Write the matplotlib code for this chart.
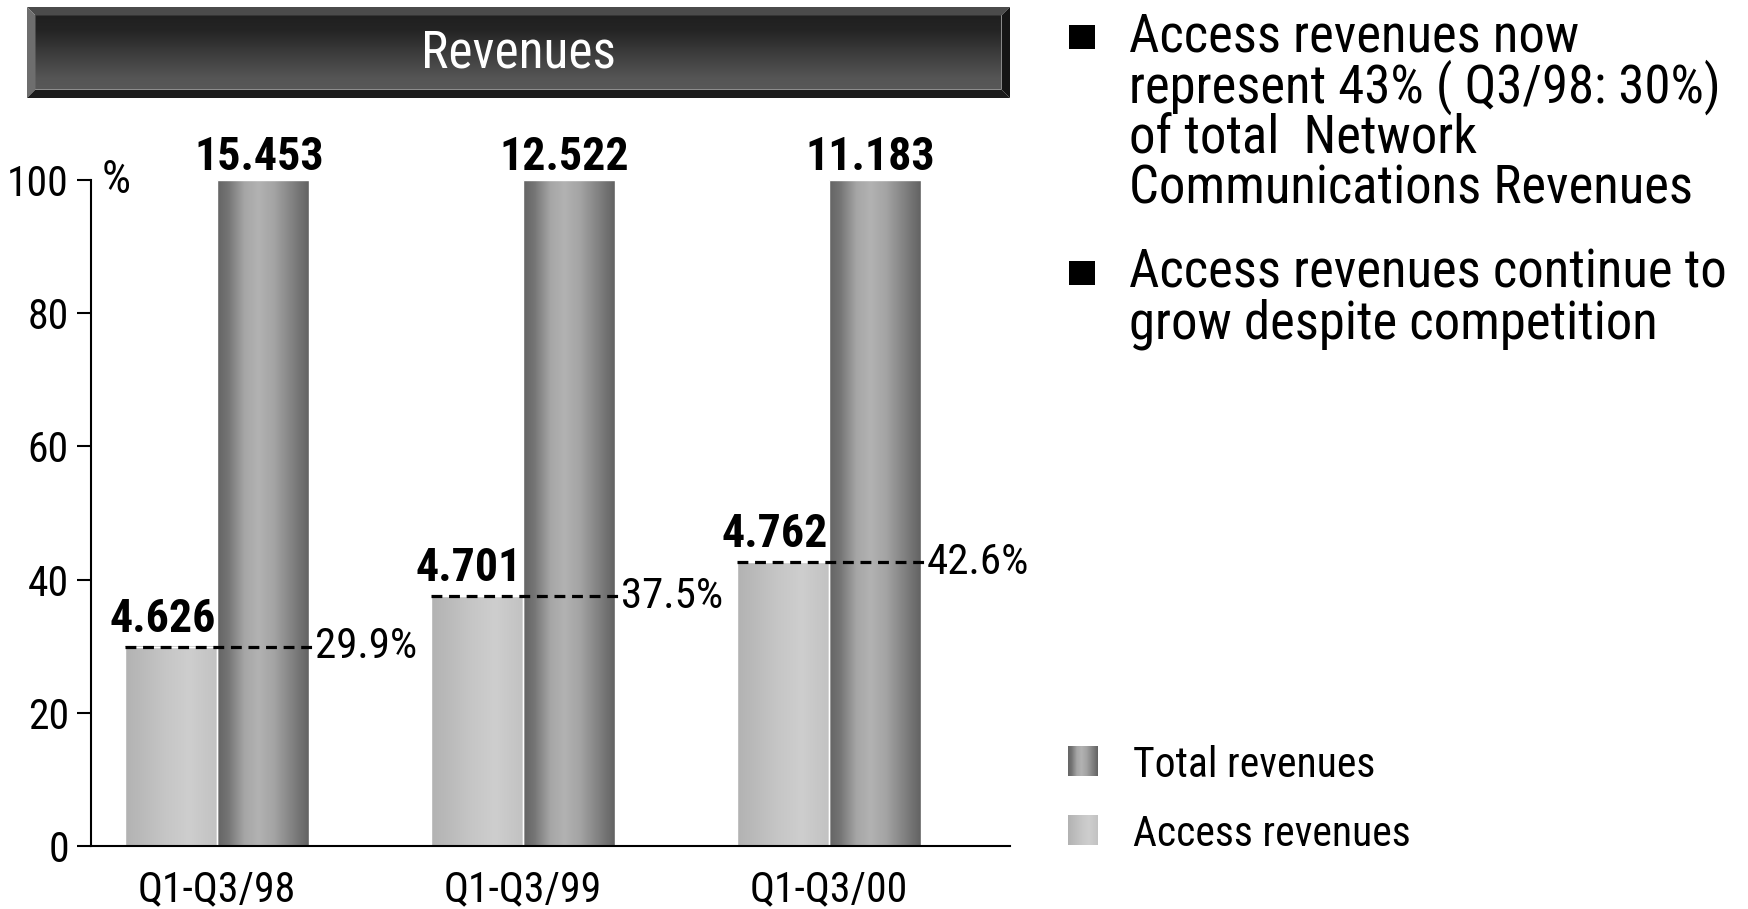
import numpy as np
import matplotlib.pyplot as plt
from matplotlib.colors import LinearSegmentedColormap
from matplotlib.patches import Polygon, Rectangle

plt.rcParams['font.family'] = ['Roboto Condensed', 'DejaVu Sans']

periods = ['Q1-Q3/98', 'Q1-Q3/99', 'Q1-Q3/00']
total_rev = [15.453, 12.522, 11.183]
access_rev = [4.626, 4.701, 4.762]
access_pct = [29.9, 37.5, 42.6]
total_pct = [100, 100, 100]

bullet_points = [
    ['Access revenues now', 'represent 43% ( Q3/98: 30%)', 'of total  Network',
     'Communications Revenues'],
    ['Access revenues continue to', 'grow despite competition'],
]
legend_labels = ['Total revenues', 'Access revenues']

# cylinder-like shading across the bars
total_cmap = LinearSegmentedColormap.from_list('total', [
    (0, '#646464'), (0.12, '#747474'), (0.3, '#a6a6a6'), (0.45, '#b2b2b2'),
    (0.62, '#a4a4a4'), (0.8, '#858585'), (1, '#626262')])
access_cmap = LinearSegmentedColormap.from_list('access', [
    (0, '#b2b2b2'), (0.45, '#c6c6c6'), (0.7, '#cecece'), (1, '#c2c2c2')])
banner_cmap = LinearSegmentedColormap.from_list('banner', [
    (0, '#202020'), (0.2, '#242424'), (0.85, '#555555'), (1, '#585858')])
hramp = np.linspace(0, 1, 256).reshape(1, -1)
vramp = np.linspace(0, 1, 256).reshape(-1, 1)

W, H = 1749, 909
fig = plt.figure(figsize=(W / 100, H / 100), dpi=100)
ax = fig.add_axes([91 / W, 1 - 846 / H, 919 / W, 666 / H])
ax.patch.set_alpha(0)

x = np.arange(len(periods))
w = 0.3
acc_bars = ax.bar(x - w / 2, access_pct, w, facecolor='none', edgecolor='white', lw=1, zorder=2)
tot_bars = ax.bar(x + w / 2, total_pct, w, facecolor='none', edgecolor='white', lw=1, zorder=2)


def shade(bars, cmap):
    for b in bars:
        x0, y0 = b.get_x(), b.get_y()
        ax.imshow(hramp, cmap=cmap, aspect='auto', interpolation='bilinear', zorder=1,
                  extent=(x0, x0 + b.get_width(), y0, y0 + b.get_height()))


shade(acc_bars, access_cmap)
shade(tot_bars, total_cmap)

# share of access revenues, dashed across both bars
ax.hlines(access_pct, x - w, x + w + 0.01, colors='black', lw=2.3,
          linestyles=(0, (3.4, 2.1)), zorder=4)
for i in x:
    ax.text(i + w + 0.02, access_pct[i], f'{access_pct[i]:.1f}%', ha='left', va='center',
            fontsize=31)
    ax.annotate(f'{access_rev[i]:.3f}', (i - w / 2, access_pct[i]), xytext=(-6, 11),
                textcoords='offset points', ha='center', va='baseline', fontsize=33,
                fontweight='bold')
    ax.annotate(f'{total_rev[i]:.3f}', (i + w / 2, total_pct[i]), xytext=(-3, 7),
                textcoords='offset points', ha='center', va='baseline', fontsize=33,
                fontweight='bold')

ax.set_xlim(-0.412, 2.592)
ax.set_ylim(0, 100)
for s in ['top', 'right']:
    ax.spines[s].set_visible(False)
for s in ['left', 'bottom']:
    ax.spines[s].set_linewidth(1.5)
ax.set_yticks(range(0, 101, 20))
ax.tick_params(axis='y', length=10, width=1.5, labelsize=30, pad=6)
ax.set_xticks(x)
ax.set_xticklabels(periods)
ax.tick_params(axis='x', length=0, labelsize=30, pad=17)
ax.annotate('%', (0, 1), xycoords='axes fraction', xytext=(11, 0), textcoords='offset pixels',
            ha='left', va='center', fontsize=33)

# page furniture: banner, bullet text, legend
ov = fig.add_axes([0, 0, 1, 1], zorder=-1)

bx0, bx1, by0, by1, bev = 27, 1010, 7, 98, 8.5
ov.imshow(vramp, cmap=banner_cmap, aspect='auto', interpolation='bilinear',
          extent=(bx0 + bev, bx1 - bev, by1 - bev, by0 + bev))
ov.add_patch(Polygon([(bx0, by0), (bx1, by0), (bx1 - bev, by0 + bev), (bx0 + bev, by0 + bev)],
                     color='#4b4b4b', lw=0))
ov.add_patch(Polygon([(bx0, by0), (bx0 + bev, by0 + bev), (bx0 + bev, by1 - bev), (bx0, by1)],
                     color='#6e6e6e', lw=0))
ov.add_patch(Polygon([(bx1, by0), (bx1, by1), (bx1 - bev, by1 - bev), (bx1 - bev, by0 + bev)],
                     color='#151515', lw=0))
ov.add_patch(Polygon([(bx0, by1), (bx0 + bev, by1 - bev), (bx1 - bev, by1 - bev), (bx1, by1)],
                     color='#1c1c1c', lw=0))
ov.text((bx0 + bx1) / 2, (by0 + by1) / 2 + 1, 'Revenues', color='white', ha='center',
        va='center', fontsize=37)

tops = [52, 288]
for lines, top in zip(bullet_points, tops):
    ov.add_patch(Rectangle((1069, top - 27), 26, 24, color='black', lw=0))
    for k, line in enumerate(lines):
        ov.text(1129, top + k * 50.5, line, ha='left', va='baseline', fontsize=38)

for lab, cmap, base in zip(legend_labels, [total_cmap, access_cmap], [777, 846]):
    ov.imshow(hramp, cmap=cmap, aspect='auto', interpolation='bilinear',
              extent=(1068, 1098, base - 1, base - 31))
    ov.text(1133, base, lab, ha='left', va='baseline', fontsize=30)

ov.set_xlim(0, W)
ov.set_ylim(H, 0)
ov.axis('off')

fig.savefig('out.png', dpi=100)
